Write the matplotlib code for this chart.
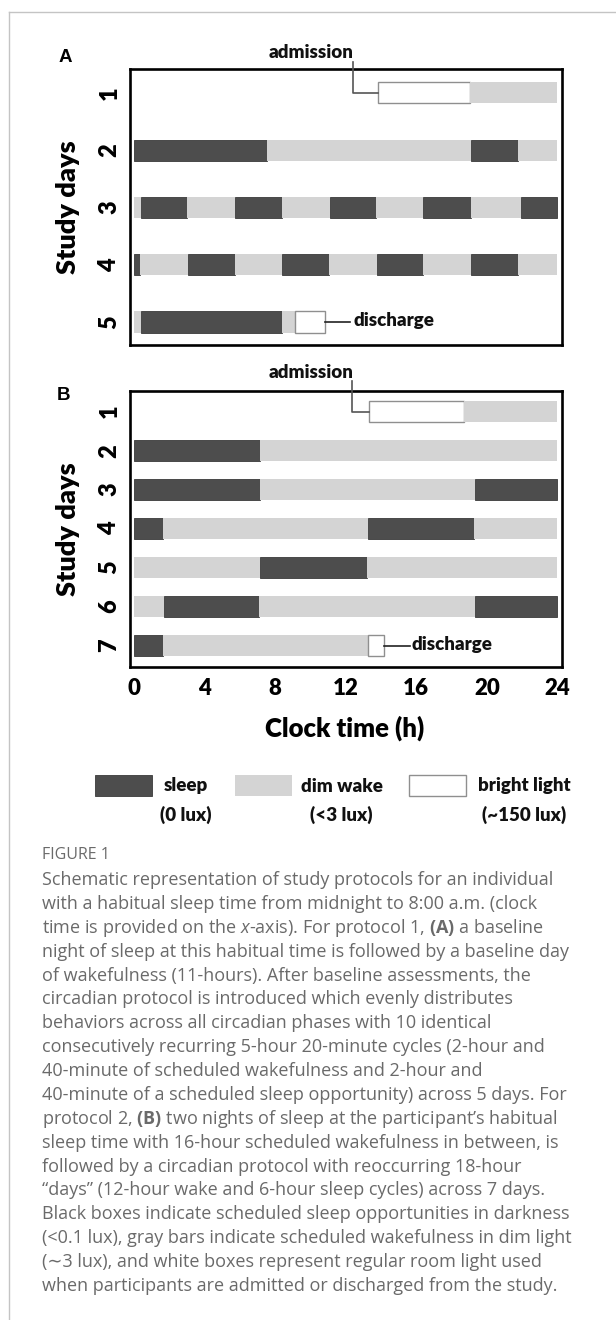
import matplotlib
matplotlib.use("Agg")
import matplotlib.pyplot as plt
from matplotlib.patches import Rectangle

# ---------------- data (clock hours) ----------------
# Panel A : protocol 1
a_day   = [1, 1,
           2, 2, 2, 2,
           3, 3, 3, 3, 3, 3, 3, 3, 3, 3,
           4, 4, 4, 4, 4, 4, 4, 4, 4, 4,
           5, 5, 5, 5]
a_start = [13.85, 19.07,
           0.0, 7.53, 19.11, 21.78,
           0.0, 0.40, 3.00, 5.70, 8.40, 11.10, 13.73, 16.40, 19.10, 21.95,
           0.0, 0.33, 3.07, 5.71, 8.40, 11.07, 13.78, 16.40, 19.11, 21.78,
           0.0, 0.40, 8.40, 9.11]
a_end   = [19.07, 24.0,
           7.53, 19.11, 21.78, 24.0,
           0.40, 3.00, 5.70, 8.40, 11.10, 13.73, 16.40, 19.10, 21.95, 24.0,
           0.33, 3.07, 5.71, 8.40, 11.07, 13.78, 16.40, 19.11, 21.78, 24.0,
           0.40, 8.40, 9.11, 10.84]
a_state = ["bright", "dim",
           "sleep", "dim", "sleep", "dim",
           "dim", "sleep", "dim", "sleep", "dim", "sleep", "dim", "sleep", "dim", "sleep",
           "sleep", "dim", "sleep", "dim", "sleep", "dim", "sleep", "dim", "sleep", "dim",
           "dim", "sleep", "dim", "bright"]

# Panel B : protocol 2
b_day   = [1, 1,
           2, 2,
           3, 3, 3,
           4, 4, 4, 4,
           5, 5, 5,
           6, 6, 6, 6,
           7, 7, 7]
b_start = [13.29, 18.73,
           0.0, 7.13,
           0.0, 7.13, 19.33,
           0.0, 1.62, 13.27, 19.29,
           0.0, 7.16, 13.20,
           0.0, 1.69, 7.09, 19.33,
           0.0, 1.62, 13.27]
b_end   = [18.73, 24.0,
           7.13, 24.0,
           7.13, 19.33, 24.0,
           1.62, 13.27, 19.29, 24.0,
           7.16, 13.20, 24.0,
           1.69, 7.09, 19.33, 24.0,
           1.62, 13.27, 14.16]
b_state = ["bright", "dim",
           "sleep", "dim",
           "sleep", "dim", "sleep",
           "sleep", "dim", "sleep", "dim",
           "dim", "sleep", "dim",
           "dim", "sleep", "dim", "sleep",
           "sleep", "dim", "bright"]

a_days_ticks = [1, 2, 3, 4, 5]
b_days_ticks = [1, 2, 3, 4, 5, 6, 7]
hour_ticks = [0, 4, 8, 12, 16, 20, 24]

legend_states = ["sleep", "dim", "bright"]
legend_names = ["sleep", "dim wake", "bright light"]
legend_lux = ["(0 lux)", "(<3 lux)", "(~150 lux)"]

caption_title = "FIGURE 1"
caption_lines = [
    "Schematic representation of study protocols for an individual",
    "with a habitual sleep time from midnight to 8:00 a.m. (clock",
    r"time is provided on the $\mathit{x}$-axis). For protocol 1, $\mathbf{(A)}$ a baseline",
    "night of sleep at this habitual time is followed by a baseline day",
    "of wakefulness (11-hours). After baseline assessments, the",
    "circadian protocol is introduced which evenly distributes",
    "behaviors across all circadian phases with 10 identical",
    "consecutively recurring 5-hour 20-minute cycles (2-hour and",
    "40-minute of scheduled wakefulness and 2-hour and",
    "40-minute of a scheduled sleep opportunity) across 5 days. For",
    "protocol 2, $\\mathbf{(B)}$ two nights of sleep at the participant\u2019s habitual",
    "sleep time with 16-hour scheduled wakefulness in between, is",
    "followed by a circadian protocol with reoccurring 18-hour",
    "\u201cdays\u201d (12-hour wake and 6-hour sleep cycles) across 7 days.",
    "Black boxes indicate scheduled sleep opportunities in darkness",
    "(<0.1 lux), gray bars indicate scheduled wakefulness in dim light",
    "(\u223c3 lux), and white boxes represent regular room light used",
    "when participants are admitted or discharged from the study.",
]

# ---------------- style ----------------
plt.rcParams["font.family"] = ["Lato", "DejaVu Sans"]
plt.rcParams["mathtext.fontset"] = "custom"
plt.rcParams["mathtext.rm"] = "Open Sans"
plt.rcParams["mathtext.it"] = "Open Sans:italic"
plt.rcParams["mathtext.bf"] = "Open Sans:bold"

FILL = {"sleep": "#4d4d4d", "dim": "#d4d4d4", "bright": "#ffffff"}
EDGE = {"sleep": "#3a3a3a", "dim": "#d4d4d4", "bright": "#8f8f8f"}
LW = {"sleep": 0.6, "dim": 0.0, "bright": 1.0}
HEAVY = "heavy"

W, H = 616, 1320
fig = plt.figure(figsize=(W / 100, H / 100), dpi=100)
fig.patch.set_facecolor("white")

# overlay axes in pixel coordinates for frame, labels, legend, caption
ov = fig.add_axes([0, 0, 1, 1], zorder=-1)
ov.set_xlim(0, W)
ov.set_ylim(H, 0)
ov.axis("off")


def px_axes(l, t, r, b):
    return fig.add_axes([l / W, 1 - b / H, (r - l) / W, (b - t) / H])


axA = px_axes(130.2, 68.8, 562.2, 345)
axB = px_axes(130.2, 391, 562.2, 667)


def draw_panel(ax, days, starts, ends, states, height, ylim, yticks):
    for d, s, e, st in zip(days, starts, ends, states):
        ax.barh(d, e - s, left=s, height=height, color=FILL[st],
                edgecolor=EDGE[st], linewidth=LW[st], zorder=2)
    ax.set_xlim(-0.22, 24.27)
    ax.set_ylim(*ylim)
    ax.set_yticks(yticks)
    ax.set_yticklabels([str(t) for t in yticks], rotation=90,
                       fontsize=17, fontweight=HEAVY, va="center")
    ax.tick_params(axis="both", length=0)
    ax.tick_params(axis="y", pad=7)
    for sp in ax.spines.values():
        sp.set_linewidth(1.9)
        sp.set_color("black")
    ax.set_ylabel("Study days", fontsize=19.5, fontweight=HEAVY, va="center")
    ax.yaxis.set_label_coords(-0.145, 0.5)


draw_panel(axA, a_day, a_start, a_end, a_state, 0.37, (5.4, 0.58), a_days_ticks)
draw_panel(axB, b_day, b_start, b_end, b_state, 0.54, (7.55, 0.47), b_days_ticks)

axA.set_xticks([])
axB.set_xticks(hour_ticks)
axB.set_xticklabels([str(t) for t in hour_ticks], fontsize=16, fontweight=HEAVY)
axB.tick_params(axis="x", pad=8)
axB.set_xlabel("Clock time (h)", fontsize=18.5, fontweight=HEAVY, va="center")
axB.xaxis.set_label_coords(0.497, -0.221)

LINE_C = "#555555"
ANN_FS = 13.5
TXT_C = "#111111"

# admission / discharge annotations (panel A)
i_adm = a_state.index("bright")
axA.plot([12.41, 12.41, a_start[i_adm]], [0.46, a_day[i_adm], a_day[i_adm]],
         color=LINE_C, lw=1.2, clip_on=False, zorder=3)
axA.text(12.45, 0.30, "admission", ha="right", va="center",
         fontsize=ANN_FS, fontweight=HEAVY, color=TXT_C)
i_dis = len(a_state) - 1
axA.plot([a_end[i_dis], 12.24], [a_day[i_dis], a_day[i_dis]],
         color="#222222", lw=1.2, clip_on=False, zorder=3)
axA.text(12.42, a_day[i_dis] - 0.02, "discharge", ha="left", va="center",
         fontsize=ANN_FS, fontweight=HEAVY, color=TXT_C)

# panel B
i_adm = b_state.index("bright")
axB.plot([12.38, 12.38, b_start[i_adm]], [0.22, b_day[i_adm], b_day[i_adm]],
         color=LINE_C, lw=1.2, clip_on=False, zorder=3)
axB.text(12.42, 0.0, "admission", ha="right", va="center",
         fontsize=ANN_FS, fontweight=HEAVY, color=TXT_C)
i_dis = len(b_state) - 1
axB.plot([b_end[i_dis], 15.63], [b_day[i_dis], b_day[i_dis]],
         color="#222222", lw=1.2, clip_on=False, zorder=3)
axB.text(15.73, b_day[i_dis] - 0.03, "discharge", ha="left", va="center",
         fontsize=ANN_FS, fontweight=HEAVY, color=TXT_C)

# frame
ov.plot([9.4, 9.4], [12, H], color="#c4c4c4", lw=1.0)
ov.plot([9.4, W], [12, 12], color="#c4c4c4", lw=1.0)

# panel letters
ov.text(65.5, 57, "A", ha="center", va="center", fontsize=13.5,
        fontweight="bold", family="Liberation Sans")
ov.text(64, 395, "B", ha="center", va="center", fontsize=13.5,
        fontweight="bold", family="Liberation Sans")

# legend
box_left = [95, 235, 409.3]
name_cx = [185.5, 341.7, 524]
for st, name, lux, bl, cx in zip(legend_states, legend_names, legend_lux, box_left, name_cx):
    ov.add_patch(Rectangle((bl, 775), 56.5, 21, facecolor=FILL[st],
                           edgecolor=EDGE[st] if st != "dim" else FILL[st],
                           linewidth=LW[st] if st != "dim" else 0))
    ov.text(cx, 791.5, name, ha="center", va="baseline", fontsize=13.5,
            fontweight=HEAVY, color=TXT_C)
    ov.text(cx, 820.5, lux, ha="center", va="baseline", fontsize=13.5,
            fontweight=HEAVY, color=TXT_C)

# caption
CAP_C = "#6a6a6a"
CAP_FAMILY = ["Open Sans", "DejaVu Sans"]
ov.text(42.4, 859.3, caption_title, ha="left", va="baseline", fontsize=11.5,
        color=CAP_C, family=CAP_FAMILY)
for i, line in enumerate(caption_lines):
    ov.text(42.4, 885 + i * 23.88, line, ha="left", va="baseline",
            fontsize=13.0, color=CAP_C, family=CAP_FAMILY)

fig.savefig("out.png", dpi=100)
